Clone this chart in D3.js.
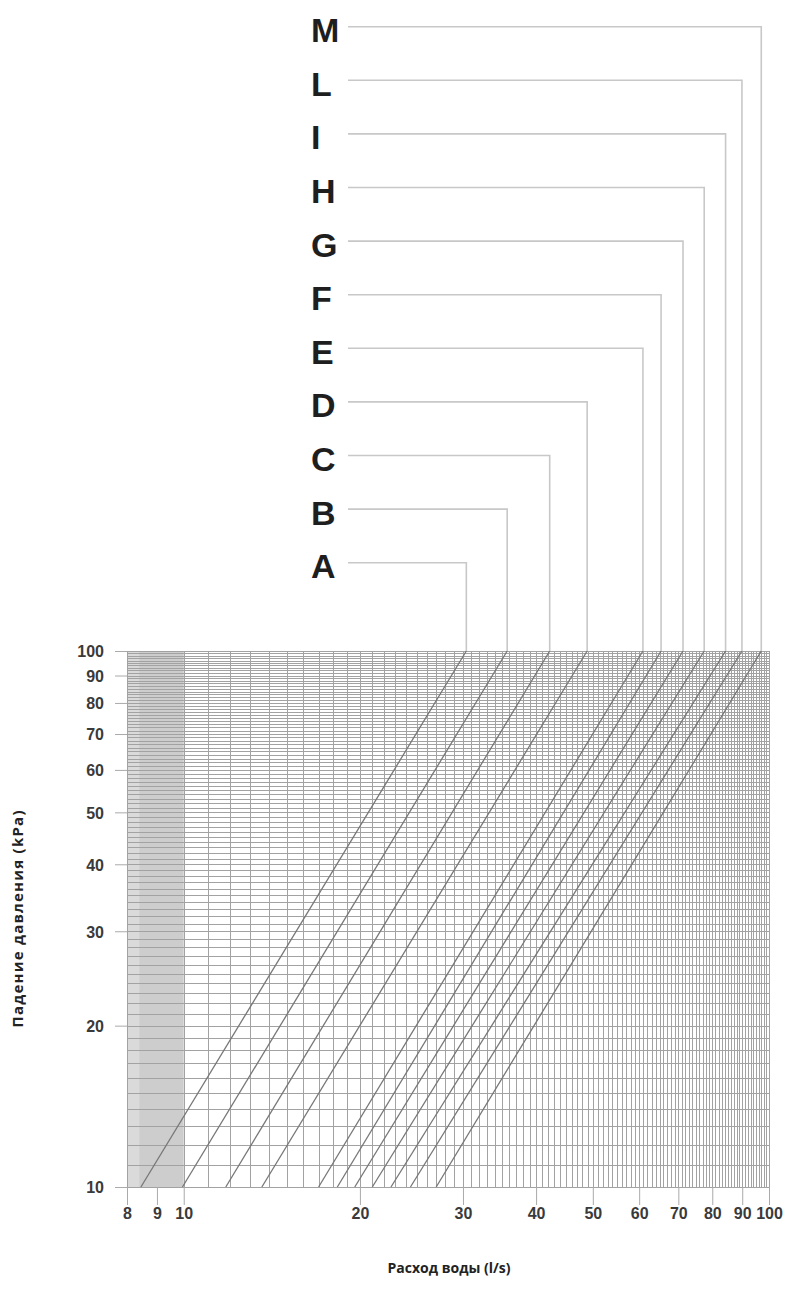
<!DOCTYPE html>
<html>
<head>
<meta charset="utf-8">
<script src="https://cdn.jsdelivr.net/npm/d3@7"></script>
<style>
  html, body { margin: 0; padding: 0; background: #ffffff; }
  svg { display: block; }
</style>
</head>
<body>
<svg id="chart" width="791" height="1291"></svg>
<script>
// Pressure drop vs water flow, log-log, one straight line per valve size
const curveNames   = ["A", "B", "C", "D", "E", "F", "G", "H", "I", "L", "M"];
const flowAt10kPa  = [8.45, 9.95, 11.8, 13.6, 17.0, 18.3, 19.6, 21.0, 22.6, 24.4, 27.0];
const flowAt100kPa = [30.4, 35.7, 42.2, 48.9, 60.9, 65.4, 71.3, 77.5, 84.3, 89.9, 97.0];

const flowTicks     = [8, 9, 10, 20, 30, 40, 50, 60, 70, 80, 90, 100];
const pressureTicks = [10, 20, 30, 40, 50, 60, 70, 80, 90, 100];

const xTitle = "Расход воды (l/s)";
const yTitle = "Падение давления (kPa)";

const plot = { left: 127, right: 769, top: 651, bottom: 1187 };

const x = d3.scaleLog().domain([8, 100]).range([plot.left, plot.right]);
const y = d3.scaleLog().domain([10, 100]).range([plot.bottom, plot.top]);

const svg = d3.select("#chart");

// shaded strip at the low-flow end
const strip = svg.append("g");
strip.append("rect")
  .attr("x", x(8)).attr("y", plot.top)
  .attr("width", x(10) - x(8)).attr("height", plot.bottom - plot.top)
  .attr("fill", "#cdcdcd");
strip.append("rect")
  .attr("x", x(8)).attr("y", plot.top)
  .attr("width", x(8.4) - x(8)).attr("height", plot.bottom - plot.top)
  .attr("fill", "#dadada");

// fine grid: one line per l/s and per kPa
const gridX = d3.range(10, 101);
const gridY = d3.range(10, 101);
const grid = svg.append("g").attr("stroke", "#a2a2a2").attr("stroke-width", 1).attr("shape-rendering", "crispEdges");
grid.selectAll("line.v").data(gridX).join("line").attr("class", "v")
  .attr("x1", d => Math.round(x(d)) + 0.5).attr("x2", d => Math.round(x(d)) + 0.5)
  .attr("y1", plot.top).attr("y2", plot.bottom);
grid.selectAll("line.h").data(gridY).join("line").attr("class", "h")
  .attr("x1", plot.left).attr("x2", plot.right)
  .attr("y1", d => Math.round(y(d)) + 0.5).attr("y2", d => Math.round(y(d)) + 0.5);
grid.append("line")
  .attr("x1", Math.round(x(8)) + 0.5).attr("x2", Math.round(x(8)) + 0.5)
  .attr("y1", plot.top).attr("y2", plot.bottom);

// axes
const tickFont = "bold 16px 'Liberation Sans', Arial, sans-serif";
const yAxis = svg.append("g")
  .attr("transform", `translate(${plot.left},0)`)
  .call(d3.axisLeft(y).tickValues(pressureTicks).tickFormat(d3.format("d")).tickSize(12).tickPadding(11));
const xAxis = svg.append("g")
  .attr("transform", `translate(0,${plot.bottom})`)
  .call(d3.axisBottom(x).tickValues(flowTicks).tickFormat(d3.format("d")).tickSize(18).tickPadding(3));
[xAxis, yAxis].forEach(a => {
  a.select(".domain").remove();
  a.selectAll(".tick line").attr("stroke", "#aaaaaa").attr("stroke-width", 1);
  a.selectAll(".tick text").style("font", tickFont).attr("fill", "#3a3a3a");
});
yAxis.selectAll(".tick text").attr("dy", "0.36em");

// pressure-drop lines
svg.append("g").selectAll("line.curve").data(curveNames).join("line").attr("class", "curve")
  .attr("x1", (d, i) => x(flowAt10kPa[i])).attr("y1", y(10))
  .attr("x2", (d, i) => x(flowAt100kPa[i])).attr("y2", y(100))
  .attr("stroke", "#777777").attr("stroke-width", 1.3);

// size labels with leader lines down to each line's top end
const rows = d3.scalePoint().domain(curveNames.slice().reverse()).range([26.7, 562.7]);
const labelX = 311, leaderStart = 348;
const leaders = svg.append("g").attr("fill", "none").attr("stroke", "#c8c8c8").attr("stroke-width", 1.6);
leaders.selectAll("path").data(curveNames).join("path")
  .attr("d", (d, i) => `M${leaderStart},${rows(d)}H${x(flowAt100kPa[i])}V${plot.top}`);
svg.append("g").selectAll("text").data(curveNames).join("text")
  .attr("x", labelX).attr("y", d => rows(d) + 15.5)
  .style("font", "bold 34px 'Liberation Sans', Arial, sans-serif")
  .attr("fill", "#1e1e1e")
  .text(d => d);

// axis titles
svg.append("text")
  .attr("transform", `translate(23,${919}) rotate(-90)`)
  .attr("text-anchor", "middle")
  .attr("textLength", 217).attr("lengthAdjust", "spacing")
  .style("font", "bold 15px 'Open Sans', sans-serif")
  .attr("fill", "#222")
  .text(yTitle);
svg.append("text")
  .attr("x", 449).attr("y", 1273)
  .attr("text-anchor", "middle")
  .style("font", "bold 14px 'Open Sans', sans-serif")
  .attr("fill", "#222")
  .text(xTitle);
</script>
</body>
</html>
